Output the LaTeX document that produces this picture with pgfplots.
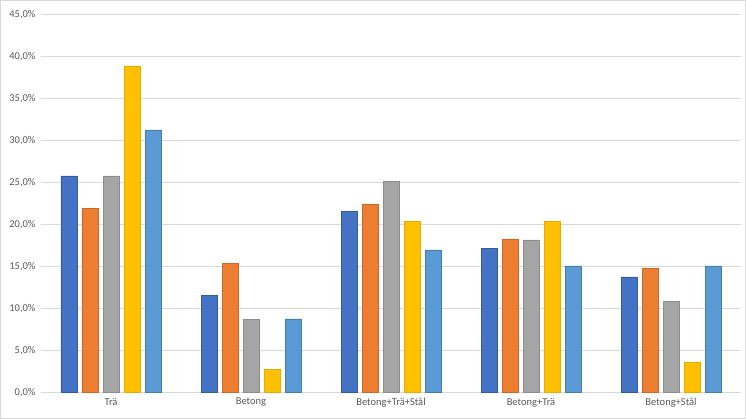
\documentclass[border=0pt]{standalone}
\usepackage{pgfplots}
\pgfplotsset{compat=1.18}
\usepackage{fontspec}
\setmainfont{Carlito}
\definecolor{c1}{HTML}{4472C4}
\definecolor{c2}{HTML}{ED7D31}
\definecolor{c3}{HTML}{A5A5A5}
\definecolor{c4}{HTML}{FFC000}
\definecolor{c5}{HTML}{5B9BD5}
\definecolor{gridc}{HTML}{D9D9D9}
\definecolor{txt}{HTML}{595959}
\begin{document}
\begin{tikzpicture}[x=1pt,y=1pt]
\useasboundingbox (-41,-26.3) rectangle (705,392.7);
\draw[color=gridc,line width=1pt] (-40.5,-25.8) rectangle (704.5,392.2);
\begin{axis}[
  at={(0,0)}, anchor=south west,
  scale only axis, width=700pt, height=378pt,
  ybar=5pt, bar width=16pt,
  xmin=-0.5, xmax=4.5, ymin=0, ymax=45,
  xtick=data,
  xticklabels={Trä,Betong,Betong+Trä+Stål,Betong+Trä,Betong+Stål},
  ytick={0,5,...,45},
  yticklabel={\pgfmathprintnumber[fixed,fixed zerofill,precision=1,use comma]{\tick}\%},
  /pgf/number format/assume math mode=true,
  ymajorgrids, grid style={gridc, line width=0.8pt},
  axis lines*=left,
  x axis line style={gridc, line width=0.8pt, -},
  y axis line style={draw=none},
  major tick length=0pt,
  tick label style={font=\fontsize{10.5}{12}\selectfont, text=txt},
  yticklabel style={xshift=-2pt},
  xticklabel style={yshift=-2pt},
  clip=false,
]
\addplot[fill=c1, draw=c1!80!black, line width=0.5pt] coordinates {(0,25.8) (1,11.6) (2,21.6) (3,17.2) (4,13.8)};
\addplot[fill=c2, draw=c2!85!black, line width=0.5pt] coordinates {(0,21.9) (1,15.4) (2,22.4) (3,18.3) (4,14.8)};
\addplot[fill=c3, draw=c3!85!black, line width=0.5pt] coordinates {(0,25.8) (1,8.7) (2,25.2) (3,18.2) (4,10.9)};
\addplot[fill=c4, draw=c4!90!black, line width=0.5pt] coordinates {(0,38.9) (1,2.8) (2,20.4) (3,20.4) (4,3.6)};
\addplot[fill=c5, draw=c5!80!black, line width=0.5pt] coordinates {(0,31.3) (1,8.8) (2,17.0) (3,15.1) (4,15.1)};
\end{axis}
\end{tikzpicture}
\end{document}
